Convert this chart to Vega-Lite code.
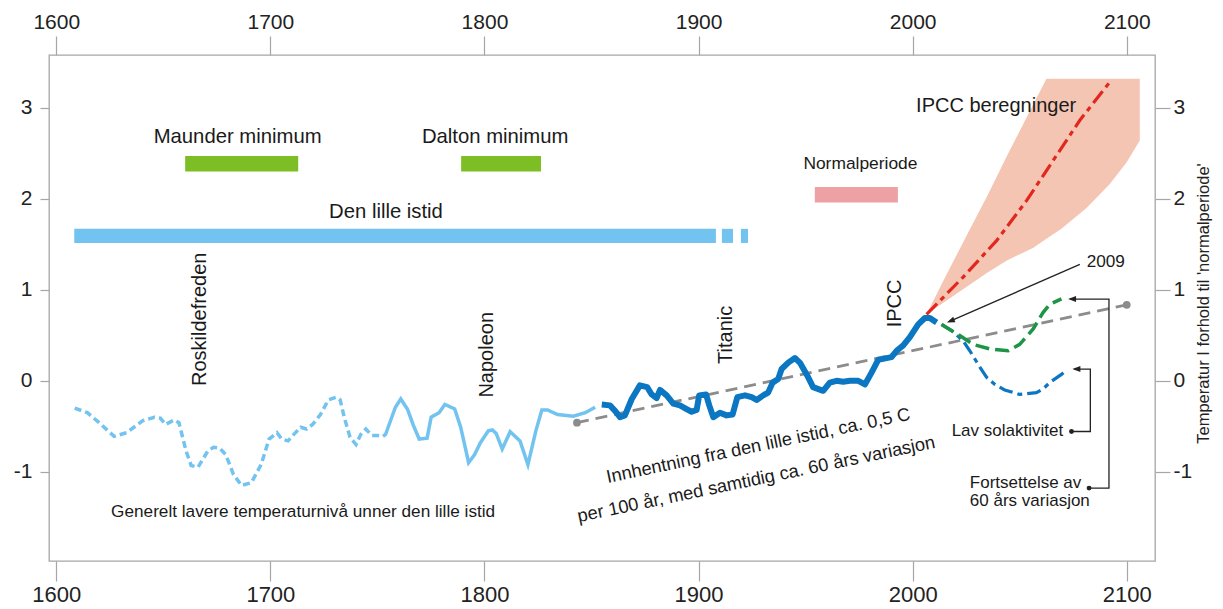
{
  "$schema": "https://vega.github.io/schema/vega-lite/v6.json",
  "width": 1106,
  "height": 506,
  "autosize": {"type": "none"},
  "padding": {"left": 49, "top": 55, "right": 68, "bottom": 48},
  "background": "white",
  "config": {
    "view": {"stroke": "#a6a6a6", "strokeWidth": 1.3},
    "axis": {"domain": false, "grid": false, "tickColor": "#a6a6a6", "tickWidth": 1.2, "labelFont": "Liberation Sans", "labelColor": "#222222", "titleFont": "Liberation Sans", "titleColor": "#222222", "titleFontWeight": "normal"}
  },
  "datasets": {
    "band": [
      {"yr": 2006.5, "hi": 0.73, "lo": 0.73},
      {"yr": 2015.0, "hi": 1.13, "lo": 0.87},
      {"yr": 2025.1, "hi": 1.59, "lo": 1.03},
      {"yr": 2035.0, "hi": 2.04, "lo": 1.19},
      {"yr": 2043.8, "hi": 2.46, "lo": 1.32},
      {"yr": 2056.2, "hi": 3.03, "lo": 1.46},
      {"yr": 2062.5, "hi": 3.32, "lo": 1.56},
      {"yr": 2069.5, "hi": 3.32, "lo": 1.67},
      {"yr": 2081.2, "hi": 3.32, "lo": 1.90},
      {"yr": 2092.0, "hi": 3.32, "lo": 2.16},
      {"yr": 2099.9, "hi": 3.32, "lo": 2.40},
      {"yr": 2106.1, "hi": 3.32, "lo": 2.64}
    ],
    "bars": [
      {"name": "Den lille istid", "x1": 1608.4, "x2": 1908.1, "y1": 1.515, "y2": 1.67},
      {"name": "Den lille istid", "x1": 1910.9, "x2": 1916.1, "y1": 1.515, "y2": 1.67},
      {"name": "Den lille istid", "x1": 1919.8, "x2": 1923.1, "y1": 1.515, "y2": 1.67},
      {"name": "Maunder minimum", "x1": 1660.2, "x2": 1713.0, "y1": 2.30, "y2": 2.47},
      {"name": "Dalton minimum", "x1": 1789.1, "x2": 1826.4, "y1": 2.30, "y2": 2.47},
      {"name": "Normalperiode", "x1": 1954.3, "x2": 1993.1, "y1": 1.96, "y2": 2.13}
    ],
    "trend": [
      {"yr": 1843.2, "v": -0.46},
      {"yr": 2100.0, "v": 0.835}
    ],
    "lbDash": [
      {"yr": 1608.6, "v": -0.30}, {"yr": 1614.5, "v": -0.35}, {"yr": 1620.0, "v": -0.46}, {"yr": 1627.0, "v": -0.61},
      {"yr": 1632.9, "v": -0.57}, {"yr": 1640.3, "v": -0.44}, {"yr": 1645.8, "v": -0.40}, {"yr": 1648.6, "v": -0.41},
      {"yr": 1651.0, "v": -0.48}, {"yr": 1655.1, "v": -0.43}, {"yr": 1657.3, "v": -0.46}, {"yr": 1660.6, "v": -0.77},
      {"yr": 1663.0, "v": -0.93}, {"yr": 1666.2, "v": -0.95}, {"yr": 1670.8, "v": -0.77}, {"yr": 1673.5, "v": -0.73},
      {"yr": 1676.3, "v": -0.74}, {"yr": 1679.1, "v": -0.81}, {"yr": 1682.8, "v": -1.03}, {"yr": 1686.5, "v": -1.15},
      {"yr": 1691.1, "v": -1.12}, {"yr": 1695.7, "v": -0.92}, {"yr": 1699.4, "v": -0.64}, {"yr": 1703.1, "v": -0.57},
      {"yr": 1705.3, "v": -0.64}, {"yr": 1708.3, "v": -0.66}, {"yr": 1710.5, "v": -0.60}, {"yr": 1714.2, "v": -0.51},
      {"yr": 1716.9, "v": -0.53}, {"yr": 1719.7, "v": -0.48}, {"yr": 1723.4, "v": -0.37}, {"yr": 1727.1, "v": -0.21},
      {"yr": 1730.8, "v": -0.18}, {"yr": 1732.6, "v": -0.21}, {"yr": 1734.5, "v": -0.40}, {"yr": 1737.2, "v": -0.62},
      {"yr": 1740.0, "v": -0.70}, {"yr": 1742.2, "v": -0.59}, {"yr": 1744.6, "v": -0.53}, {"yr": 1747.4, "v": -0.60},
      {"yr": 1750.1, "v": -0.60}, {"yr": 1752.6, "v": -0.61}
    ],
    "lbSolid": [
      {"yr": 1752.6, "v": -0.61}, {"yr": 1753.8, "v": -0.59}, {"yr": 1758.4, "v": -0.29}, {"yr": 1760.9, "v": -0.20},
      {"yr": 1764.0, "v": -0.31}, {"yr": 1766.8, "v": -0.49}, {"yr": 1769.5, "v": -0.64}, {"yr": 1773.2, "v": -0.63},
      {"yr": 1775.1, "v": -0.40}, {"yr": 1778.8, "v": -0.35}, {"yr": 1781.5, "v": -0.26}, {"yr": 1786.1, "v": -0.31},
      {"yr": 1788.9, "v": -0.51}, {"yr": 1792.6, "v": -0.90}, {"yr": 1795.4, "v": -0.81}, {"yr": 1798.1, "v": -0.68},
      {"yr": 1801.8, "v": -0.55}, {"yr": 1803.7, "v": -0.54}, {"yr": 1805.5, "v": -0.58}, {"yr": 1808.3, "v": -0.75},
      {"yr": 1812.0, "v": -0.56}, {"yr": 1816.6, "v": -0.66}, {"yr": 1820.3, "v": -0.92}, {"yr": 1824.0, "v": -0.55},
      {"yr": 1826.8, "v": -0.32}, {"yr": 1829.5, "v": -0.32}, {"yr": 1834.1, "v": -0.37}, {"yr": 1841.5, "v": -0.39},
      {"yr": 1847.1, "v": -0.35}, {"yr": 1851.7, "v": -0.29}
    ],
    "dark": [
      {"yr": 1854.8, "v": -0.26}, {"yr": 1858.6, "v": -0.27}, {"yr": 1861.0, "v": -0.33}, {"yr": 1863.3, "v": -0.40},
      {"yr": 1865.6, "v": -0.38}, {"yr": 1868.8, "v": -0.20}, {"yr": 1872.6, "v": -0.05}, {"yr": 1876.0, "v": -0.07},
      {"yr": 1878.1, "v": -0.15}, {"yr": 1880.4, "v": -0.19}, {"yr": 1882.0, "v": -0.10}, {"yr": 1885.1, "v": -0.16},
      {"yr": 1888.2, "v": -0.25}, {"yr": 1891.3, "v": -0.27}, {"yr": 1894.4, "v": -0.31}, {"yr": 1896.8, "v": -0.34},
      {"yr": 1899.1, "v": -0.32}, {"yr": 1900.3, "v": -0.16}, {"yr": 1903.5, "v": -0.15}, {"yr": 1905.0, "v": -0.27},
      {"yr": 1906.9, "v": -0.40}, {"yr": 1910.0, "v": -0.35}, {"yr": 1913.1, "v": -0.38}, {"yr": 1915.9, "v": -0.37},
      {"yr": 1918.1, "v": -0.18}, {"yr": 1921.7, "v": -0.16}, {"yr": 1924.8, "v": -0.18}, {"yr": 1927.1, "v": -0.21},
      {"yr": 1930.2, "v": -0.16}, {"yr": 1932.5, "v": -0.13}, {"yr": 1934.6, "v": -0.02}, {"yr": 1937.2, "v": 0.02},
      {"yr": 1938.8, "v": 0.13}, {"yr": 1941.9, "v": 0.20}, {"yr": 1945.0, "v": 0.25}, {"yr": 1947.3, "v": 0.20},
      {"yr": 1950.5, "v": 0.07}, {"yr": 1953.5, "v": -0.07}, {"yr": 1958.2, "v": -0.11}, {"yr": 1961.3, "v": -0.02},
      {"yr": 1964.5, "v": 0.00}, {"yr": 1967.5, "v": -0.01}, {"yr": 1970.7, "v": 0.00}, {"yr": 1974.6, "v": 0.00},
      {"yr": 1977.7, "v": -0.04}, {"yr": 1980.8, "v": 0.09}, {"yr": 1983.9, "v": 0.23}, {"yr": 1990.1, "v": 0.26},
      {"yr": 1992.5, "v": 0.33}, {"yr": 1995.6, "v": 0.39}, {"yr": 1998.7, "v": 0.48}, {"yr": 2002.6, "v": 0.62},
      {"yr": 2005.7, "v": 0.69}, {"yr": 2008.0, "v": 0.69}, {"yr": 2011.2, "v": 0.64}
    ],
    "blueCont": [
      {"yr": 2013.5, "v": 0.62}, {"yr": 2018.2, "v": 0.55}, {"yr": 2023.6, "v": 0.44}, {"yr": 2026.7, "v": 0.33},
      {"yr": 2030.6, "v": 0.18}, {"yr": 2034.5, "v": 0.04}, {"yr": 2038.4, "v": -0.04}, {"yr": 2043.0, "v": -0.10},
      {"yr": 2050.0, "v": -0.15}, {"yr": 2057.8, "v": -0.13}, {"yr": 2060.9, "v": -0.09}, {"yr": 2064.0, "v": -0.02},
      {"yr": 2069.5, "v": 0.07}, {"yr": 2071.0, "v": 0.10}
    ],
    "greenCont": [
      {"yr": 2013.5, "v": 0.62}, {"yr": 2020.5, "v": 0.52}, {"yr": 2028.3, "v": 0.40}, {"yr": 2036.0, "v": 0.35},
      {"yr": 2044.6, "v": 0.33}, {"yr": 2050.0, "v": 0.40}, {"yr": 2056.3, "v": 0.57}, {"yr": 2060.9, "v": 0.75},
      {"yr": 2064.0, "v": 0.84}, {"yr": 2069.5, "v": 0.90}
    ],
    "red": [
      {"yr": 2006.5, "v": 0.73}, {"yr": 2023.6, "v": 1.14}, {"yr": 2039.2, "v": 1.54}, {"yr": 2053.2, "v": 1.98},
      {"yr": 2065.6, "v": 2.42}, {"yr": 2078.0, "v": 2.86}, {"yr": 2092.0, "v": 3.28}
    ],
    "arrows": [
      {"id": "F", "o": 1, "yr": 2082.4, "v": -1.179}, {"id": "F", "o": 2, "yr": 2091.7, "v": -1.179},
      {"id": "F", "o": 3, "yr": 2091.7, "v": 0.898}, {"id": "F", "o": 4, "yr": 2073.5, "v": 0.898},
      {"id": "L", "o": 1, "yr": 2074.2, "v": -0.557}, {"id": "L", "o": 2, "yr": 2083.0, "v": -0.557},
      {"id": "L", "o": 3, "yr": 2083.0, "v": 0.129}, {"id": "L", "o": 4, "yr": 2075.5, "v": 0.129},
      {"id": "A", "o": 1, "yr": 2078.1, "v": 1.28}, {"id": "A", "o": 2, "yr": 2017.0, "v": 0.65}
    ]
  },
  "layer": [
    {
      "data": {"name": "band"},
      "mark": {"type": "area", "color": "#F5C5B3", "opacity": 1},
      "encoding": {
        "x": {"field": "yr", "type": "quantitative", "axis": null},
        "y": {"field": "hi", "type": "quantitative", "axis": null},
        "y2": {"field": "lo"}
      }
    },
    {
      "data": {"name": "bars"},
      "mark": {"type": "rect"},
      "encoding": {
        "x": {"field": "x1", "type": "quantitative", "axis": null},
        "x2": {"field": "x2"},
        "y": {"field": "y1", "type": "quantitative", "axis": null},
        "y2": {"field": "y2"},
        "color": {"field": "name", "type": "nominal", "legend": null,
          "scale": {"domain": ["Den lille istid", "Maunder minimum", "Dalton minimum", "Normalperiode"], "range": ["#72C3EF", "#7DBE24", "#7DBE24", "#EDA1A4"]}}
      }
    },
    {
      "data": {"name": "trend"},
      "mark": {"type": "line", "color": "#8C8C8C", "strokeWidth": 2.8, "strokeDash": [12, 7]},
      "encoding": {
        "x": {"field": "yr", "type": "quantitative", "axis": null},
        "y": {"field": "v", "type": "quantitative", "axis": null}
      }
    },
    {
      "data": {"name": "trend"},
      "mark": {"type": "point", "filled": true, "color": "#8C8C8C", "size": 60, "opacity": 1},
      "encoding": {
        "x": {"field": "yr", "type": "quantitative", "axis": null},
        "y": {"field": "v", "type": "quantitative", "axis": null}
      }
    },
    {
      "data": {"name": "lbDash"},
      "mark": {"type": "line", "color": "#72C3EF", "strokeWidth": 3.5, "strokeDash": [7, 4]},
      "encoding": {
        "x": {"field": "yr", "type": "quantitative",
          "scale": {"domain": [1596.6, 2113.2], "nice": false, "zero": false},
          "axis": {"orient": "bottom", "values": [1600, 1700, 1800, 1900, 2000, 2100], "labelExpr": "'' + datum.value", "title": null, "tickSize": 20, "labelPadding": 3, "labelFontSize": 22}},
        "y": {"field": "v", "type": "quantitative",
          "scale": {"domain": [-1.98, 3.58], "nice": false, "zero": false},
          "axis": {"orient": "left", "values": [-1, 0, 1, 2, 3], "labelExpr": "'' + datum.value", "title": null, "tickSize": 9, "labelPadding": 8, "labelFontSize": 21}}
      }
    },
    {
      "data": {"name": "lbSolid"},
      "mark": {"type": "line", "color": "#72C3EF", "strokeWidth": 3.5},
      "encoding": {
        "x": {"field": "yr", "type": "quantitative",
          "scale": {"domain": [1596.6, 2113.2], "nice": false, "zero": false},
          "axis": {"orient": "top", "values": [1600, 1700, 1800, 1900, 2000, 2100], "labelExpr": "'' + datum.value", "title": null, "tickSize": 19, "labelPadding": 4, "labelFontSize": 21}},
        "y": {"field": "v", "type": "quantitative",
          "scale": {"domain": [-1.98, 3.58], "nice": false, "zero": false},
          "axis": {"orient": "right", "values": [-1, 0, 1, 2, 3], "labelExpr": "'' + datum.value", "tickSize": 15, "labelPadding": 3, "labelFontSize": 21,
            "title": "Temperatur I forhold til 'normalperiode'", "titleFontSize": 16.5, "titleAngle": 270, "titleX": 48, "titleY": 248, "titleAlign": "center", "titleBaseline": "middle"}}
      }
    },
    {
      "data": {"name": "dark"},
      "mark": {"type": "line", "color": "#0B76C2", "strokeWidth": 6, "strokeJoin": "round", "strokeCap": "butt"},
      "encoding": {
        "x": {"field": "yr", "type": "quantitative", "axis": null},
        "y": {"field": "v", "type": "quantitative", "axis": null}
      }
    },
    {
      "data": {"name": "blueCont"},
      "mark": {"type": "line", "color": "#0B76C2", "strokeWidth": 3.2, "strokeDash": [14, 5, 5, 5]},
      "encoding": {
        "x": {"field": "yr", "type": "quantitative", "axis": null},
        "y": {"field": "v", "type": "quantitative", "axis": null}
      }
    },
    {
      "data": {"name": "greenCont"},
      "mark": {"type": "line", "color": "#1D9446", "strokeWidth": 3.5, "strokeDash": [14, 6]},
      "encoding": {
        "x": {"field": "yr", "type": "quantitative", "axis": null},
        "y": {"field": "v", "type": "quantitative", "axis": null}
      }
    },
    {
      "data": {"name": "red"},
      "mark": {"type": "line", "color": "#E2271F", "strokeWidth": 3.2, "strokeDash": [15, 5, 5, 5]},
      "encoding": {
        "x": {"field": "yr", "type": "quantitative", "axis": null},
        "y": {"field": "v", "type": "quantitative", "axis": null}
      }
    },
    {
      "data": {"name": "arrows"},
      "mark": {"type": "line", "color": "#222222", "strokeWidth": 1.3},
      "encoding": {
        "x": {"field": "yr", "type": "quantitative", "axis": null},
        "y": {"field": "v", "type": "quantitative", "axis": null},
        "detail": {"field": "id"},
        "order": {"field": "o"}
      }
    },
    {
      "data": {"values": [{"yr": 2072.6, "v": 0.898}, {"yr": 2074.6, "v": 0.129}]},
      "mark": {"type": "point", "filled": true, "color": "#222222", "opacity": 1, "size": 100, "shape": "M0,0L1.6,-0.6L1.6,0.6Z"},
      "encoding": {
        "x": {"field": "yr", "type": "quantitative", "axis": null},
        "y": {"field": "v", "type": "quantitative", "axis": null}
      }
    },
    {
      "data": {"values": [{"yr": 2016.0, "v": 0.64}]},
      "mark": {"type": "point", "filled": true, "color": "#222222", "opacity": 1, "size": 100, "shape": "M0,0L1.6,-0.6L1.6,0.6Z", "angle": -22.2},
      "encoding": {
        "x": {"field": "yr", "type": "quantitative", "axis": null},
        "y": {"field": "v", "type": "quantitative", "axis": null}
      }
    },
    {
      "data": {"values": [{"yr": 2082.4, "v": -1.179}, {"yr": 2074.2, "v": -0.557}]},
      "mark": {"type": "point", "filled": true, "color": "#222222", "opacity": 1, "size": 24},
      "encoding": {
        "x": {"field": "yr", "type": "quantitative", "axis": null},
        "y": {"field": "v", "type": "quantitative", "axis": null}
      }
    },
    {
      "data": {"values": [
        {"txt": "Maunder minimum", "yr": 1684.7, "v": 2.68},
        {"txt": "Dalton minimum", "yr": 1805.0, "v": 2.68},
        {"txt": "Den lille istid", "yr": 1754.0, "v": 1.857}
      ]},
      "mark": {"type": "text", "font": "Liberation Sans", "fontSize": 20.3, "color": "#1a1a1a", "align": "center", "baseline": "middle"},
      "encoding": {
        "x": {"field": "yr", "type": "quantitative", "axis": null},
        "y": {"field": "v", "type": "quantitative", "axis": null},
        "text": {"field": "txt"}
      }
    },
    {
      "data": {"values": [{"txt": "IPCC beregninger", "yr": 2039.0, "v": 3.02}]},
      "mark": {"type": "text", "font": "Liberation Sans", "fontSize": 20, "color": "#1a1a1a", "align": "center", "baseline": "middle"},
      "encoding": {
        "x": {"field": "yr", "type": "quantitative", "axis": null},
        "y": {"field": "v", "type": "quantitative", "axis": null},
        "text": {"field": "txt"}
      }
    },
    {
      "data": {"values": [{"txt": "Normalperiode", "yr": 1975.6, "v": 2.385}]},
      "mark": {"type": "text", "font": "Liberation Sans", "fontSize": 17.4, "color": "#1a1a1a", "align": "center", "baseline": "middle"},
      "encoding": {
        "x": {"field": "yr", "type": "quantitative", "axis": null},
        "y": {"field": "v", "type": "quantitative", "axis": null},
        "text": {"field": "txt"}
      }
    },
    {
      "data": {"values": [
        {"txt": "Roskildefreden", "yr": 1667.2, "v": 0.676},
        {"txt": "Napoleon", "yr": 1801.2, "v": 0.286},
        {"txt": "Titanic", "yr": 1912.6, "v": 0.505},
        {"txt": "IPCC", "yr": 1991.7, "v": 0.85}
      ]},
      "mark": {"type": "text", "font": "Liberation Sans", "fontSize": 20, "color": "#1a1a1a", "align": "center", "baseline": "middle", "angle": 270},
      "encoding": {
        "x": {"field": "yr", "type": "quantitative", "axis": null},
        "y": {"field": "v", "type": "quantitative", "axis": null},
        "text": {"field": "txt"}
      }
    },
    {
      "data": {"values": [
        {"txt": "2009", "yr": 2090.2, "v": 1.30},
        {"txt": "Generelt lavere temperaturnivå unner den lille istid", "yr": 1715.3, "v": -1.44}
      ]},
      "mark": {"type": "text", "font": "Liberation Sans", "fontSize": 17.2, "color": "#1a1a1a", "align": "center", "baseline": "middle"},
      "encoding": {
        "x": {"field": "yr", "type": "quantitative", "axis": null},
        "y": {"field": "v", "type": "quantitative", "axis": null},
        "text": {"field": "txt"}
      }
    },
    {
      "data": {"values": [{"txt": "Lav solaktivitet", "yr": 2070.3, "v": -0.557}]},
      "mark": {"type": "text", "font": "Liberation Sans", "fontSize": 17, "color": "#1a1a1a", "align": "right", "baseline": "middle"},
      "encoding": {
        "x": {"field": "yr", "type": "quantitative", "axis": null},
        "y": {"field": "v", "type": "quantitative", "axis": null},
        "text": {"field": "txt"}
      }
    },
    {
      "data": {"values": [
        {"txt": "Fortsettelse av", "yr": 2026.7, "v": -1.118},
        {"txt": "60 års variasjon", "yr": 2026.7, "v": -1.326}
      ]},
      "mark": {"type": "text", "font": "Liberation Sans", "fontSize": 17, "color": "#1a1a1a", "align": "left", "baseline": "middle"},
      "encoding": {
        "x": {"field": "yr", "type": "quantitative", "axis": null},
        "y": {"field": "v", "type": "quantitative", "axis": null},
        "text": {"field": "txt"}
      }
    },
    {
      "data": {"values": [
        {"txt": "Innhentning fra den lille istid, ca. 0,5 C", "yr": 1928.0, "v": -0.72},
        {"txt": "per 100 år, med samtidig ca. 60 års variasjon", "yr": 1927.0, "v": -1.09}
      ]},
      "mark": {"type": "text", "font": "Liberation Sans", "fontSize": 18.3, "color": "#1a1a1a", "align": "center", "baseline": "middle", "angle": -11.8},
      "encoding": {
        "x": {"field": "yr", "type": "quantitative", "axis": null},
        "y": {"field": "v", "type": "quantitative", "axis": null},
        "text": {"field": "txt"}
      }
    }
  ],
  "resolve": {"axis": {"x": "independent", "y": "independent"}}
}
